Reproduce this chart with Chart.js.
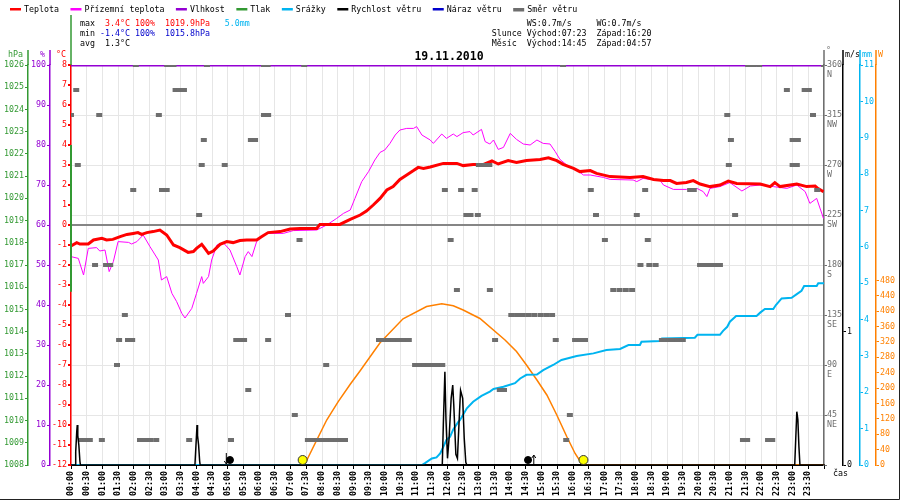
<!DOCTYPE html>
<html>
<head>
<meta charset="utf-8">
<script src="https://cdn.jsdelivr.net/npm/chart.js"></script>
<style>
html, body { margin: 0; padding: 0; background: #fff; }
canvas { display: block; }
</style>
</head>
<body>
<canvas id="meteo" width="900" height="500"></canvas>
<script>
// vsechny casy jsou v minutach od pulnoci
const tempTimes = [0, 11, 17, 33, 43, 59, 68, 80, 94, 107, 119, 128, 135, 145, 157, 170, 183, 196, 208, 224, 234, 240, 250, 256, 263, 272, 285, 298, 310, 323, 336, 355, 365, 377, 400, 419, 438, 470, 476, 514, 534, 553, 565, 578, 591, 604, 616, 629, 642, 655, 664, 674, 687, 712, 738, 750, 769, 789, 805, 817, 836, 852, 871, 897, 913, 929, 941, 961, 973, 993, 1005, 1031, 1069, 1094, 1114, 1133, 1146, 1158, 1177, 1190, 1203, 1222, 1241, 1257, 1273, 1318, 1337, 1346, 1356, 1388, 1407, 1423, 1428, 1439];
const tempValues = [-1.05, -0.88, -0.95, -0.95, -0.75, -0.67, -0.75, -0.72, -0.58, -0.47, -0.42, -0.38, -0.47, -0.38, -0.33, -0.25, -0.5, -1.0, -1.13, -1.37, -1.33, -1.17, -0.97, -1.17, -1.42, -1.3, -0.97, -0.83, -0.88, -0.78, -0.75, -0.75, -0.58, -0.38, -0.33, -0.2, -0.17, -0.17, 0.03, 0.03, 0.28, 0.5, 0.7, 1.0, 1.33, 1.75, 1.92, 2.28, 2.5, 2.72, 2.88, 2.83, 2.9, 3.08, 3.08, 2.97, 3.03, 3.03, 3.2, 3.05, 3.22, 3.13, 3.22, 3.28, 3.36, 3.22, 3.03, 2.83, 2.67, 2.72, 2.58, 2.42, 2.37, 2.42, 2.28, 2.22, 2.22, 2.08, 2.13, 2.22, 2.05, 1.92, 2.0, 2.2, 2.08, 2.05, 1.92, 2.12, 1.92, 2.05, 1.92, 1.95, 1.83, 1.67];

const groundTimes = [0, 14, 24, 33, 49, 55, 65, 73, 81, 90, 110, 116, 126, 138, 151, 167, 173, 183, 193, 202, 212, 218, 231, 240, 250, 253, 263, 269, 279, 291, 304, 317, 323, 333, 339, 346, 355, 365, 374, 406, 425, 470, 489, 508, 521, 534, 543, 556, 569, 581, 591, 600, 610, 620, 629, 642, 655, 661, 671, 687, 693, 709, 718, 731, 738, 750, 763, 769, 785, 792, 801, 808, 817, 827, 840, 852, 865, 878, 891, 903, 916, 926, 935, 948, 967, 980, 993, 1018, 1031, 1075, 1082, 1094, 1107, 1126, 1133, 1152, 1177, 1197, 1209, 1216, 1222, 1241, 1260, 1283, 1299, 1318, 1343, 1369, 1388, 1404, 1413, 1426, 1439];
const groundValues = [-1.58, -1.67, -2.5, -1.17, -1.13, -1.3, -1.25, -2.33, -1.83, -0.83, -0.87, -0.95, -0.83, -0.5, -1.08, -1.75, -2.75, -2.58, -3.42, -3.83, -4.42, -4.65, -4.17, -3.42, -2.58, -2.92, -2.58, -1.75, -1.0, -0.88, -1.25, -2.08, -2.5, -1.58, -1.33, -1.58, -0.83, -0.58, -0.42, -0.42, -0.28, -0.25, 0, 0.33, 0.58, 0.75, 1.33, 2.17, 2.67, 3.25, 3.63, 3.75, 4.08, 4.5, 4.75, 4.83, 4.83, 4.92, 4.5, 4.25, 4.08, 4.55, 4.33, 4.55, 4.42, 4.62, 4.67, 4.5, 4.78, 4.17, 4.05, 4.25, 3.78, 3.88, 4.58, 4.28, 4.05, 4.0, 4.25, 4.08, 4.05, 3.67, 3.28, 3.0, 2.75, 2.5, 2.5, 2.38, 2.28, 2.25, 2.17, 2.33, 2.28, 2.25, 2.0, 1.78, 1.78, 1.83, 1.67, 1.42, 1.83, 1.92, 2.12, 1.7, 1.95, 2.0, 1.92, 1.83, 2.0, 1.67, 1.08, 1.33, 0.33];

const humidityTimes = [0, 1440];
const humidityValues = [100, 100];

const pressureTimes = [0, 0];
const pressureValues = [1022.4, 1015.8];

const rainTimes = [0, 671, 677, 690, 699, 706, 712, 718, 725, 731, 741, 744, 757, 769, 785, 801, 808, 827, 849, 859, 871, 891, 903, 922, 938, 967, 999, 1024, 1050, 1066, 1088, 1091, 1126, 1130, 1193, 1198, 1241, 1247, 1255, 1260, 1272, 1311, 1318, 1327, 1343, 1348, 1359, 1378, 1388, 1397, 1402, 1426, 1429, 1440];
const rainValues = [0, 0, 0.05, 0.18, 0.21, 0.32, 0.5, 0.69, 0.78, 0.98, 1.19, 1.24, 1.56, 1.74, 1.9, 2.02, 2.09, 2.15, 2.25, 2.38, 2.48, 2.49, 2.61, 2.75, 2.89, 3.0, 3.07, 3.16, 3.19, 3.3, 3.3, 3.39, 3.41, 3.48, 3.5, 3.58, 3.58, 3.69, 3.8, 3.94, 4.1, 4.1, 4.19, 4.29, 4.29, 4.4, 4.58, 4.6, 4.7, 4.79, 4.92, 4.92, 5.0, 5.0];

const windTimes = [0, 8, 9, 11, 12, 13, 15, 17, 18, 237, 239, 241, 242, 244, 246, 247, 710, 712, 715, 717, 720, 723, 727, 730, 732, 736, 739, 743, 745, 749, 752, 755, 757, 1384, 1386, 1388, 1390, 1392, 1394, 1440];
const windValues = [0, 0, 0.1, 0.25, 0.3, 0.22, 0.15, 0.03, 0, 0, 0.15, 0.3, 0.22, 0.15, 0.03, 0, 0, 0.3, 0.7, 0.35, 0.05, 0.2, 0.5, 0.6, 0.45, 0.08, 0.05, 0.4, 0.56, 0.5, 0.2, 0.02, 0, 0, 0.2, 0.4, 0.34, 0.14, 0, 0];

const gustTimes = [];
const gustValues = [];

const solarTimes = [0, 443, 451, 470, 489, 511, 534, 553, 591, 635, 680, 709, 731, 750, 782, 830, 852, 871, 891, 910, 929, 948, 964, 977, 981, 1440];
const solarValues = [0, 0, 13, 65, 117, 165, 210, 245, 318, 380, 412, 419, 414, 403, 381, 325, 295, 260, 221, 182, 130, 74, 30, 3, 0, 0];

const dirTimes = [
  124, 184, 190, 196, 260, 369, 376, 446, 941, 1295, 1305, 1316, 1440,
  10, 200, 208, 216, 1369, 1403, 1411,
  0, 54, 168, 369, 377, 1255, 1419,
  254, 344, 352, 1262, 1380, 1390,
  13, 250, 294, 780, 790, 800, 1258, 1380, 1388,
  119, 174, 183, 715, 746, 772, 994, 1098, 1184, 1191, 1427,
  245, 756, 764, 778, 1004, 1082, 1270,
  437, 726, 1021, 1103,
  46, 67, 75, 1089, 1106, 1118, 1203, 1213, 1222, 1232, 1241,
  738, 801, 1037, 1049, 1061, 1073,
  103, 415, 842, 853, 864, 875, 886, 898, 909, 920,
  92, 109, 117, 316, 324, 331, 377, 589, 598, 608, 617, 627, 636, 646, 811, 927, 964, 974, 983, 1130, 1140, 1150, 1160, 1170,
  88, 488, 658, 667, 676, 684, 693, 701, 710,
  339, 820, 828,
  428, 954,
  19, 28, 36, 59, 132, 142, 152, 163, 226, 306, 453, 462, 471, 480, 489, 498, 507, 516, 524, 947, 1285, 1293, 1333, 1341
];
const dirValues = [
  360, 360, 360, 360, 360, 360, 360, 360, 360, 360, 360, 360, 360,
  337.5, 337.5, 337.5, 337.5, 337.5, 337.5, 337.5,
  315, 315, 315, 315, 315, 315, 315,
  292.5, 292.5, 292.5, 292.5, 292.5, 292.5,
  270, 270, 270, 270, 270, 270, 270, 270, 270,
  247.5, 247.5, 247.5, 247.5, 247.5, 247.5, 247.5, 247.5, 247.5, 247.5, 247.5,
  225, 225, 225, 225, 225, 225, 225,
  202.5, 202.5, 202.5, 202.5,
  180, 180, 180, 180, 180, 180, 180, 180, 180, 180, 180,
  157.5, 157.5, 157.5, 157.5, 157.5, 157.5,
  135, 135, 135, 135, 135, 135, 135, 135, 135, 135,
  112.5, 112.5, 112.5, 112.5, 112.5, 112.5, 112.5, 112.5, 112.5, 112.5, 112.5, 112.5, 112.5, 112.5, 112.5, 112.5, 112.5, 112.5, 112.5, 112.5, 112.5, 112.5, 112.5, 112.5,
  90, 90, 90, 90, 90, 90, 90, 90, 90,
  67.5, 67.5, 67.5,
  45, 45,
  22.5, 22.5, 22.5, 22.5, 22.5, 22.5, 22.5, 22.5, 22.5, 22.5, 22.5, 22.5, 22.5, 22.5, 22.5, 22.5, 22.5, 22.5, 22.5, 22.5, 22.5, 22.5, 22.5, 22.5
];

const sunTimes = [443, 980];       // vychod 07:23, zapad 16:20
const moonDotTimes = [304, 874];
const moonSet = 297, moonRise = 885; // 04:57, 14:45
const markerLevel = -11.75;

const dirNames = { 45: 'NE', 90: 'E', 135: 'SE', 180: 'S', 225: 'SW', 270: 'W', 315: 'NW', 360: 'N' };
const dateTitle = '19.11.2010';

const RED = '#ff0000', MAGENTA = '#ff00ff', PURPLE = '#9400d3', GREEN = '#339933';
const CYAN = '#00b4f0', BLACK = '#000000', BLUE = '#0000cc', GRAY = '#6e6e6e', ORANGE = '#ff8000';
const MONO = '"DejaVu Sans Mono", "Liberation Mono", monospace';

const statRows = [
    [['max  ', BLACK], ['3.4°C 100%  1019.9hPa', RED], ['   5.0mm', CYAN]],
    [['min ', BLACK], ['-1.4°C 100%  1015.8hPa', BLUE]],
    [['avg  1.3°C', BLACK]]
];
const astroRows = ['       WS:0.7m/s     WG:0.7m/s', 'Slunce Východ:07:23  Západ:16:20', 'Měsíc  Východ:14:45  Západ:04:57'];

const pts = (xs, ys) => xs.map((x, i) => ({ x: x, y: ys[i] }));
const hhmm = v => String(Math.floor(v / 60)).padStart(2, '0') + ':' + String(v % 60).padStart(2, '0');
const tickFont = { family: MONO, size: 8.3 };

function yAxis(pos, color, min, max, step, width, weight, extra) {
    return Object.assign({
        type: 'linear', position: pos, min: min, max: max, weight: weight,
        border: { color: color, width: 1.5 },
        grid: { drawOnChartArea: false, color: color, tickColor: color, tickLength: 3 },
        ticks: { stepSize: step, color: color, font: tickFont, padding: 1, autoSkip: false, callback: v => String(v) },
        afterFit: s => { s.width = width; }
    }, extra || {});
}

// popisky os, legenda, statistiky, mesic
const decor = {
    id: 'decor',
    afterDraw(chart) {
        const { ctx, scales, chartArea } = chart;
        ctx.save();
        ctx.font = '8.3px ' + MONO;
        ctx.textBaseline = 'middle';

        // legenda
        let lx = 10;
        chart.data.datasets.forEach(ds => {
            if (!ds.inLegend) return;
            ctx.fillStyle = ds.borderColor || ds.pointBorderColor;
            ctx.fillRect(lx, 8, 11, ds.inLegend);
            ctx.fillStyle = BLACK;
            ctx.textAlign = 'left';
            ctx.fillText(ds.label, lx + 14, 9.5);
            lx += 14 + ctx.measureText(ds.label).width + 11.5;
        });

        // max / min / avg
        statRows.forEach((row, i) => {
            let x = 80;
            row.forEach(part => {
                ctx.fillStyle = part[1];
                ctx.fillText(part[0], x, 24 + i * 10);
                x += ctx.measureText(part[0]).width;
            });
        });
        ctx.fillStyle = BLACK;
        astroRows.forEach((row, i) => ctx.fillText(row, 491.7, 24 + i * 10));

        // nadpisy os
        const heads = [['p', 'hPa', GREEN], ['rh', '%', PURPLE], ['t', '°C', RED]];
        ctx.textAlign = 'right';
        heads.forEach(h => { ctx.fillStyle = h[2]; ctx.fillText(h[1], scales[h[0]].right - 5, 55); });
        const rheads = [['dir', '°', GRAY, 51], ['ms', 'm/s', BLACK, 55], ['mm', 'mm', CYAN, 55], ['w', 'W', ORANGE, 55]];
        ctx.textAlign = 'left';
        rheads.forEach(h => { ctx.fillStyle = h[2]; ctx.fillText(h[1], scales[h[0]].left + 2, h[3]); });
        ctx.fillStyle = BLACK;
        ctx.fillText('čas', 833, 474);

        // prodlouzeni car os nahoru
        const ext = [['p', GREEN, 'right'], ['rh', PURPLE, 'right'], ['dir', GRAY, 'left'], ['ms', BLACK, 'left'], ['mm', CYAN, 'left'], ['w', ORANGE, 'left']];
        ctx.lineWidth = 1.5;
        ext.forEach(e => {
            const x = scales[e[0]][e[2]];
            ctx.strokeStyle = e[1];
            ctx.beginPath(); ctx.moveTo(x, 50); ctx.lineTo(x, chartArea.top); ctx.stroke();
        });
        ctx.strokeStyle = GREEN;
        ctx.beginPath(); ctx.moveTo(chartArea.left, 15); ctx.lineTo(chartArea.left, chartArea.top); ctx.stroke();

        // titulek
        ctx.font = 'bold 11.5px ' + MONO;
        ctx.textAlign = 'center';
        ctx.fillStyle = BLACK;
        ctx.fillText(dateTitle, 449, 57);

        // sipky mesice
        ctx.lineWidth = 1;
        ctx.strokeStyle = BLACK;
        const xs = scales.x.getPixelForValue(moonSet);
        ctx.beginPath();
        ctx.moveTo(xs, 453); ctx.lineTo(xs, 464);
        ctx.moveTo(xs - 2, 461); ctx.lineTo(xs, 464); ctx.lineTo(xs + 2, 461);
        ctx.stroke();
        const xr = scales.x.getPixelForValue(moonRise);
        ctx.beginPath();
        ctx.moveTo(xr, 465); ctx.lineTo(xr, 455);
        ctx.moveTo(xr - 2, 458); ctx.lineTo(xr, 455); ctx.lineTo(xr + 2, 458);
        ctx.stroke();

        // ramecek vpravo a dole
        ctx.strokeStyle = '#222';
        ctx.beginPath();
        ctx.moveTo(899.5, 0); ctx.lineTo(899.5, 499.5); ctx.lineTo(0, 499.5);
        ctx.stroke();
        ctx.restore();
    }
};

new Chart(document.getElementById('meteo'), {
    type: 'line',
    data: {
        datasets: [
            { label: 'Teplota', data: pts(tempTimes, tempValues), yAxisID: 't', borderColor: RED, borderWidth: 3, order: 3, inLegend: 2.5 },
            { label: 'Přízemní teplota', data: pts(groundTimes, groundValues), yAxisID: 't', borderColor: MAGENTA, borderWidth: 1, order: 4, inLegend: 2.5 },
            { label: 'Vlhkost', data: pts(humidityTimes, humidityValues), yAxisID: 'rh', borderColor: PURPLE, borderWidth: 3, order: 2, inLegend: 2.5 },
            { label: 'Tlak', data: pts(pressureTimes, pressureValues), yAxisID: 'p', borderColor: GREEN, borderWidth: 2, order: 1, clip: 4, inLegend: 2.5 },
            { label: 'Srážky', data: pts(rainTimes, rainValues), yAxisID: 'mm', borderColor: CYAN, borderWidth: 2, order: 5, inLegend: 2.5 },
            { label: 'Rychlost větru', data: pts(windTimes, windValues), yAxisID: 'ms', borderColor: BLACK, borderWidth: 1.5, order: 1, inLegend: 2.5 },
            { label: 'Náraz větru', data: pts(gustTimes, gustValues), yAxisID: 'ms', borderColor: BLUE, borderWidth: 1.5, order: 1, inLegend: 2.5 },
            { label: 'Směr větru', type: 'scatter', data: pts(dirTimes, dirValues), yAxisID: 'dir', pointStyle: 'line', pointRadius: 3, pointBorderWidth: 4, pointBorderColor: GRAY, borderColor: GRAY, order: 1.8, inLegend: 3.5 },
            { label: 'Slunecni zareni', data: pts(solarTimes, solarValues), yAxisID: 'w', borderColor: ORANGE, borderWidth: 1.5, order: 6 },
            { label: 'Slunce', type: 'scatter', data: sunTimes.map(t => ({ x: t, y: markerLevel })), yAxisID: 't', pointRadius: 4.5, pointBackgroundColor: '#ffff00', pointBorderColor: '#333', pointBorderWidth: 1, order: 0 },
            { label: 'Mesic', type: 'scatter', data: moonDotTimes.map(t => ({ x: t, y: markerLevel })), yAxisID: 't', pointRadius: 3.5, pointBackgroundColor: BLACK, pointBorderColor: BLACK, pointBorderWidth: 1, order: 0 }
        ]
    },
    options: {
        responsive: false,
        animation: false,
        devicePixelRatio: 1,
        events: [],
        layout: { padding: { top: 65, left: 0, right: 0, bottom: 0 } },
        elements: { point: { radius: 0 }, line: { tension: 0 } },
        plugins: { legend: { display: false }, title: { display: false }, tooltip: { enabled: false } },
        scales: {
            x: {
                type: 'linear', min: 0, max: 1440, weight: 0,
                border: { color: BLACK, width: 2 },
                grid: { color: '#e6e6e6', tickColor: BLACK, tickLength: 4 },
                ticks: {
                    stepSize: 30, autoSkip: false, maxRotation: 90, minRotation: 90, padding: 2,
                    color: BLACK, font: { family: MONO, size: 8.3, weight: 'bold' },
                    callback: v => v >= 1440 ? '' : hhmm(v)
                },
                afterFit: s => { s.height = 35; }
            },
            t: yAxis('left', RED, -12, 8, 1, 21, 1, {
                grid: {
                    drawOnChartArea: true, tickColor: RED, tickLength: 3, lineWidth: 2,
                    color: c => c.tick && c.tick.value === 0 ? '#858585' : 'rgba(0,0,0,0)'
                }
            }),
            rh: yAxis('left', PURPLE, 0, 100, 10, 22, 2),
            p: yAxis('left', GREEN, 1008, 1026, 1, 28, 3),
            dir: yAxis('right', GRAY, 0, 360, 45, 19, 1, {
                grid: { drawOnChartArea: true, color: '#e6e6e6', tickColor: GRAY, tickLength: 3 },
                ticks: {
                    stepSize: 45, color: GRAY, font: tickFont, padding: 0, labelOffset: 4.4, autoSkip: false,
                    callback: v => v === 0 ? '' : [String(v), dirNames[v]]
                }
            }),
            ms: yAxis('right', BLACK, 0, 3, 1, 17, 2, {
                afterBuildTicks: s => { s.ticks = s.ticks.filter(t => t.value <= 1); }
            }),
            mm: yAxis('right', CYAN, 0, 11, 1, 16, 3),
            w: yAxis('right', ORANGE, 0, 1040, 40, 24, 4, {
                afterBuildTicks: s => { s.ticks = s.ticks.filter(t => t.value <= 480); }
            })
        }
    },
    plugins: [decor]
});
</script>
</body>
</html>
